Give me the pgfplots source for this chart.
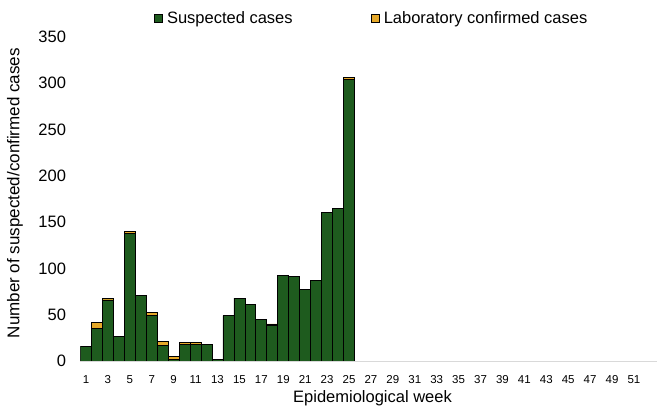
\documentclass[border=0pt]{standalone}
\usepackage{fontspec}
\setmainfont{Liberation Sans}
\usepackage{pgfplots}
\pgfplotsset{compat=1.18}
\usepackage{pgfplotstable}
\definecolor{suspgreen}{HTML}{1E5B1E}
\definecolor{labyellow}{HTML}{E6A92A}
\pgfplotstableread{
week S C
1 16 0
2 35 7
3 66 2
4 27 0
5 138 2
6 71 0
7 49 3
8 17 4
9 2 3
10 18 2
11 18 2
12 18 0
13 2 0
14 49 0
15 68 0
16 61 0
17 45 0
18 38 2
19 92 0
20 91 0
21 77 0
22 87 0
23 160 0
24 165 0
25 304 2
}\datatable
\begin{document}
\begin{tikzpicture}
\begin{axis}[
  scale only axis,
  width=576.5pt, height=324pt,
  xmin=0.5, xmax=53.1,
  ymin=0, ymax=350,
  ybar stacked,
  bar width=1,
  axis x line*=bottom,
  axis y line*=left,
  x axis line style={draw=black!15, line width=0.8pt},
  y axis line style={draw=none},
  major tick length=0pt,
  xtick={1,3,...,51},
  ytick={0,50,...,350},
  /pgf/number format/assume math mode=true,
  xticklabel style={font=\fontsize{11.5}{13}\selectfont, yshift=-11pt},
  yticklabel style={font=\fontsize{16.5}{18}\selectfont, xshift=-11pt},
  xlabel={Epidemiological week},
  ylabel={Number of suspected/confirmed cases},
  xlabel style={font=\fontsize{16.5}{18}\selectfont, at={(axis description cs:0.5065,0)}, anchor=center, yshift=-37pt},
  ylabel style={font=\fontsize{17}{18}\selectfont, at={(axis description cs:-0.1136,0.518)}, anchor=center},
  legend columns=2,
  legend style={draw=none, font=\fontsize{16.5}{18}\selectfont, at={(axis description cs:0.505,1.0586)}, anchor=center,
    /tikz/every even column/.append style={column sep=76pt}},
  legend image code/.code={\draw[#1, draw=black, line width=0.6pt] (0pt,-4.2pt) rectangle (8.5pt,4.2pt);},
]
\addplot[fill=suspgreen, draw=black, line width=0.8pt] table[x=week, y=S] {\datatable};
\addlegendentry{\hspace{2pt}Suspected cases}
\addplot[fill=labyellow, draw=black, line width=0.8pt] table[x=week, y=C] {\datatable};
\addlegendentry{\hspace{2pt}Laboratory confirmed cases}
\end{axis}
\pgfresetboundingbox
\path[use as bounding box] (-80.5pt,-46pt) rectangle (576.5pt,361pt);
\end{tikzpicture}
\end{document}
